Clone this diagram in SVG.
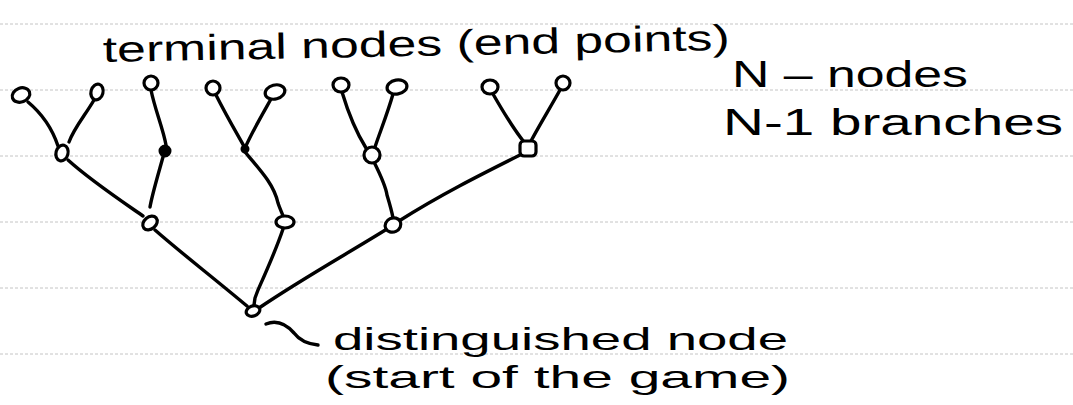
<svg xmlns="http://www.w3.org/2000/svg" width="1073" height="405" viewBox="0 0 1073 405">
  <style>
    .rule { stroke: #c4c4c4; stroke-width: 1; stroke-dasharray: 3 2; fill: none; }
    .edge { stroke: #000; stroke-width: 3.4; fill: none; stroke-linecap: round; stroke-linejoin: round; }
    .node { stroke: #000; stroke-width: 3.2; fill: #fff; }
    .dot { fill: #000; stroke: #000; stroke-width: 2; }
    .hand { font-family: "Liberation Sans", "DejaVu Sans", sans-serif; fill: #000; }
  </style>
  <rect width="1073" height="405" fill="#fff"/>

  <!-- ruled notebook lines -->
  <g id="rules">
    <line class="rule" x1="0" y1="24" x2="1073" y2="24"/>
    <line class="rule" x1="0" y1="90" x2="1073" y2="90"/>
    <line class="rule" x1="0" y1="156" x2="1073" y2="156"/>
    <line class="rule" x1="0" y1="222" x2="1073" y2="222"/>
    <line class="rule" x1="0" y1="288" x2="1073" y2="288"/>
    <line class="rule" x1="0" y1="354" x2="1073" y2="354"/>
  </g>

  <!-- branches of the game tree -->
  <g id="connectors">
    <path class="edge" d="M28,102 C40,112 52,128 58,146"/>
    <path class="edge" d="M94,100 C86,114 74,128 69,142"/>
    <path class="edge" d="M151,90 C155,110 163,128 166,145"/>
    <path class="edge" d="M216,95 C226,115 236,132 245,148"/>
    <path class="edge" d="M271,99 C262,115 252,132 245,148"/>
    <path class="edge" d="M342,92 C348,112 356,132 366,148"/>
    <path class="edge" d="M393,94 C388,112 380,132 375,147"/>
    <path class="edge" d="M493,94 C505,115 516,132 524,142"/>
    <path class="edge" d="M560,90 C550,108 540,124 531,141"/>
    <path class="edge" d="M68,160 C90,180 120,200 143,216"/>
    <path class="edge" d="M163,157 C158,175 152,195 150,207"/>
    <path class="edge" d="M245,152 C262,172 274,185 278,203 C280,209 282,213 283,216"/>
    <path class="edge" d="M374,162 C382,178 386,188 387,195 C390,205 392,212 393,218"/>
    <path class="edge" d="M520,155 C480,175 440,195 399,221"/>
    <path class="edge" d="M155,230 C180,252 210,275 247,306"/>
    <path class="edge" d="M283,229 C276,250 266,272 258,290 L255,298 L254,305"/>
    <path class="edge" d="M387,229 C345,255 300,280 259,308"/>
    <!-- pointer to the root label -->
    <path class="edge" d="M266,324 C276,320 286,324 294,333 C300,341 308,344 318,345"/>
  </g>

  <!-- terminal nodes -->
  <g id="t1"><ellipse class="node" cx="21" cy="95" rx="9" ry="7" transform="rotate(-20 21 95)"/></g>
  <g id="t2"><ellipse class="node" cx="97" cy="92" rx="6" ry="8" transform="rotate(15 97 92)"/></g>
  <g id="t3"><ellipse class="node" cx="151" cy="83" rx="7" ry="7"/></g>
  <g id="t4"><ellipse class="node" cx="213" cy="88" rx="7" ry="7"/></g>
  <g id="t5"><ellipse class="node" cx="275" cy="92" rx="10" ry="7" transform="rotate(-15 275 92)"/></g>
  <g id="t6"><ellipse class="node" cx="341" cy="85" rx="8" ry="7"/></g>
  <g id="t7"><ellipse class="node" cx="397" cy="87" rx="10" ry="7" transform="rotate(-10 397 87)"/></g>
  <g id="t8"><ellipse class="node" cx="490" cy="87" rx="8" ry="7"/></g>
  <g id="t9"><ellipse class="node" cx="563" cy="83" rx="7" ry="7"/></g>

  <!-- second-level nodes -->
  <g id="l1"><ellipse class="node" cx="62" cy="153" rx="6" ry="8" transform="rotate(15 62 153)"/></g>
  <g id="l2"><circle class="dot" cx="165" cy="151" r="5.5"/></g>
  <g id="l3"><circle class="dot" cx="245" cy="149" r="3.5"/></g>
  <g id="l4"><ellipse class="node" cx="372" cy="155" rx="8" ry="8"/></g>
  <g id="l5"><rect class="node" x="520" y="141" width="16" height="15" rx="4"/></g>

  <!-- third-level nodes -->
  <g id="m1"><ellipse class="node" cx="150" cy="223" rx="8" ry="6" transform="rotate(-40 150 223)"/></g>
  <g id="m2"><ellipse class="node" cx="285" cy="222" rx="9" ry="6"/></g>
  <g id="m3"><ellipse class="node" cx="393" cy="225" rx="8" ry="7" transform="rotate(-25 393 225)"/></g>

  <!-- root -->
  <g id="root"><ellipse class="node" cx="253" cy="311" rx="7" ry="5" transform="rotate(-20 253 311)"/></g>

  <!-- labels -->
  <g id="labels">
    <text class="hand" x="103" y="62" font-size="36" textLength="627" lengthAdjust="spacingAndGlyphs" transform="rotate(-1.1 103 62)">terminal nodes (end points)</text>
    <text class="hand" x="732" y="87" font-size="36" textLength="236" lengthAdjust="spacingAndGlyphs">N – nodes</text>
    <text class="hand" x="723" y="135" font-size="36" textLength="340" lengthAdjust="spacingAndGlyphs">N-1 branches</text>
    <text class="hand" x="333" y="350" font-size="32" textLength="455" lengthAdjust="spacingAndGlyphs">distinguished node</text>
    <text class="hand" x="325" y="388" font-size="32" textLength="465" lengthAdjust="spacingAndGlyphs">(start of the game)</text>
  </g>
</svg>
